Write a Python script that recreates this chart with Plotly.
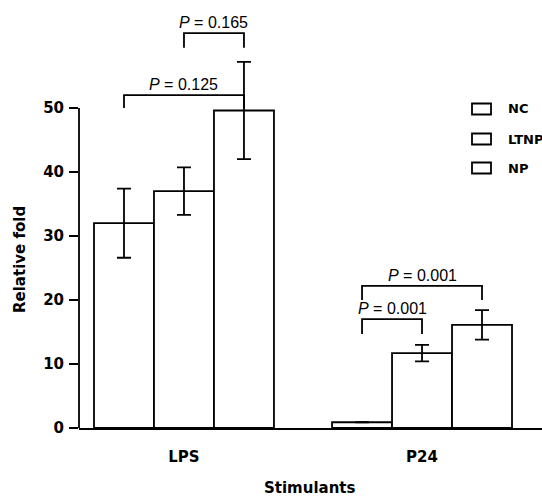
import plotly.graph_objects as go

# ---- data ----
categories = ["LPS", "P24"]
series_names = ["NC", "LTNP", "NP"]
nc_values = [32.0, 0.9]
ltnp_values = [37.0, 11.7]
np_values = [49.6, 16.1]
nc_errors = [5.4, 0.0]
ltnp_errors = [3.7, 1.3]
np_errors = [7.6, 2.3]
y_ticks = [0, 10, 20, 30, 40, 50]

# significance brackets: category index, from series, to series, bracket level, leg bottom, label
bracket_cat = [0, 0, 1, 1]
bracket_from = [1, 0, 0, 0]
bracket_to = [2, 2, 2, 1]
bracket_level = [61.7, 52.0, 22.2, 17.0]
bracket_leg = [59.4, 50.0, 20.0, 14.7]
bracket_text = ["<i>P</i> = 0.165", "<i>P</i> = 0.125", "<i>P</i> = 0.001", "<i>P</i> = 0.001"]

BOLD = "DejaVu Sans"
BARGAP = 0.244
n_series = len(series_names)
bar_w = (1 - BARGAP) / n_series

x_idx = list(range(len(categories)))
values = [nc_values, ltnp_values, np_values]
errors = [nc_errors, ltnp_errors, np_errors]

fig = go.Figure()
for name, vals, errs in zip(series_names, values, errors):
    fig.add_trace(go.Bar(
        x=x_idx, y=vals, name=name,
        marker=dict(color="white", line=dict(color="black", width=1.8)),
        error_y=dict(type="data", array=errs, visible=True, color="black",
                     thickness=1.8, width=7),
        showlegend=False,
    ))

shapes = []
annotations = []


def bar_center(cat, s):
    return cat + (s - (n_series - 1) / 2) * bar_w


for c, f, t, lvl, leg, txt in zip(bracket_cat, bracket_from, bracket_to,
                                  bracket_level, bracket_leg, bracket_text):
    x0 = bar_center(c, f)
    x1 = bar_center(c, t)
    shapes.append(dict(type="path", xref="x", yref="y",
                       path=f"M {x0},{leg} L {x0},{lvl} L {x1},{lvl} L {x1},{leg}",
                       line=dict(color="black", width=1.8)))
    annotations.append(dict(x=(x0 + x1) / 2, y=lvl, xref="x", yref="y",
                            text=txt, showarrow=False, yanchor="bottom",
                            yshift=0,
                            font=dict(family="Liberation Sans", size=16, color="black")))

# y-axis line only from 0 to 50
shapes.append(dict(type="line", xref="paper", yref="y", x0=0, x1=0,
                   y0=y_ticks[0], y1=y_ticks[-1],
                   line=dict(color="black", width=1.8)))

# manual legend
plot_w = 463
plot_h = 418
leg_rows_y = [109, 139, 168]
for name, py in zip(series_names, leg_rows_y):
    yp = (428 - py) / plot_h
    shapes.append(dict(type="rect", xref="paper", yref="paper",
                       x0=(472 - 79) / plot_w, x1=(491 - 79) / plot_w,
                       y0=yp - 5.5 / plot_h, y1=yp + 5.5 / plot_h,
                       line=dict(color="black", width=1.8), fillcolor="white"))
    annotations.append(dict(x=(506 - 79) / plot_w, y=yp, xref="paper", yref="paper",
                            text=f"<b>{name}</b>", showarrow=False,
                            xanchor="left", yanchor="middle",
                            font=dict(family=BOLD, size=13, color="black")))

# axis titles
annotations.append(dict(x=(20 - 79) / plot_w, y=(428 - 260) / plot_h,
                        xref="paper", yref="paper", text="<b>Relative fold</b>",
                        textangle=-90, showarrow=False, xanchor="center", yanchor="middle",
                        font=dict(family=BOLD, size=15, color="black")))
annotations.append(dict(x=(310 - 79) / plot_w, y=-(488 - 428) / plot_h,
                        xref="paper", yref="paper", text="<b>Stimulants</b>",
                        showarrow=False, xanchor="center", yanchor="middle",
                        font=dict(family=BOLD, size=15, color="black")))

fig.update_layout(
    width=542, height=498,
    margin=dict(l=79, r=0, t=10, b=70),
    paper_bgcolor="white", plot_bgcolor="white",
    barmode="group", bargap=BARGAP, bargroupgap=0,
    shapes=shapes, annotations=annotations,
    showlegend=False,
)
fig.update_xaxes(
    range=[-0.441, 1.504], tickvals=x_idx,
    ticktext=[f"<b>{c}</b>" for c in categories],
    showline=True, linecolor="black", linewidth=1.8,
    ticks="", showgrid=False, zeroline=False,
    ticklabelstandoff=14,
    tickfont=dict(family=BOLD, size=15, color="black"),
)
fig.update_yaxes(
    range=[0, 65.3], tickvals=y_ticks,
    ticktext=[f"<b>{v}</b>" for v in y_ticks],
    showline=False, ticks="outside", ticklen=9, tickwidth=1.8, tickcolor="black",
    showgrid=False, zeroline=False, ticklabelstandoff=2,
    tickfont=dict(family=BOLD, size=15, color="black"),
)

fig.write_html("out.html", config={"displayModeBar": False},
               post_script="document.body.style.margin='0';document.body.style.overflow='hidden';")
